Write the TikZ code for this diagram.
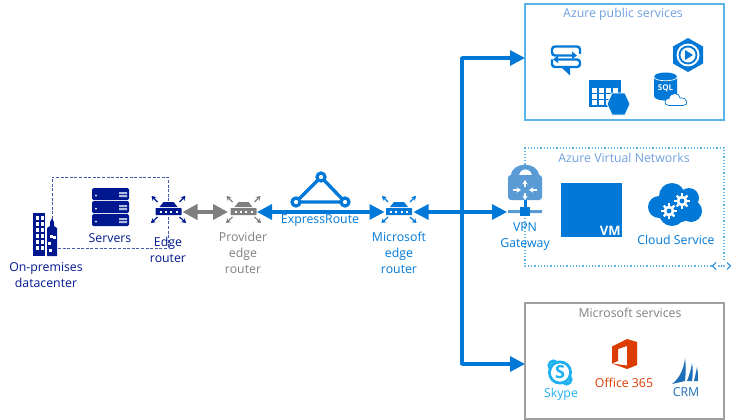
\documentclass[tikz,border=0pt]{standalone}
\usepackage{fontspec}
\setmainfont{Open Sans}
\usepackage{tikz}
\usetikzlibrary{arrows.meta}
\definecolor{navy}{HTML}{00188F}
\definecolor{dashnavy}{HTML}{4A58A8}
\definecolor{azure}{HTML}{0078D7}
\definecolor{sky}{HTML}{59B4EC}
\definecolor{ltext}{HTML}{6F9FE0}
\definecolor{lockblue}{HTML}{5A9BD5}
\definecolor{pgray}{HTML}{7F7F7F}
\definecolor{boxgray}{HTML}{A0A0A0}
\definecolor{skypeblue}{HTML}{1EB0F0}
\definecolor{officered}{HTML}{DC3C00}
\definecolor{crmblue}{HTML}{1C6FB8}

\begin{document}
\begin{tikzpicture}[x=1pt,y=-1pt,font=\fontsize{12.3}{16}\selectfont,
  txt/.style={align=center,inner sep=0pt},
  rtr/.style={minimum width=29pt,minimum height=20pt,inner sep=0pt,outer sep=0pt},
  ar/.style={{Triangle[length=15pt,width=15pt]}-{Triangle[length=15pt,width=15pt]},draw=azure,line width=3.2pt},
  arr/.style={-{Triangle[length=15pt,width=15pt]},draw=azure,line width=3.2pt},
  hop/.style={ar,draw=pgray,line width=4.4pt},
  tiny/.style={-{Stealth[length=4.4pt,width=5.4pt]},line width=1.2pt},
  svc/.style={draw,line width=1.3pt,inner sep=0pt,outer sep=0pt,minimum width=199pt,minimum height=116pt}]
\useasboundingbox (0,0) rectangle (744,420);

% service boxes
\node[svc,draw=sky] (pub) at (624.5,62) {};
\node[svc,draw=boxgray] (mss) at (624.5,361) {};
\node[txt,ltext] (pubt) at (623,14) {Azure public services};
\node[txt,ltext] (vnett) at (624,158) {Azure Virtual Networks};
\node[txt,pgray] (msst) at (630,313) {Microsoft services};
\draw[sky,line width=1.2pt,dotted] (724,260) |- (525,148) |- (712,266);
\draw[azure,line width=.9pt] (716,262.5) -- (712.5,266) -- (716,269.5) (727,262.5) -- (730.5,266) -- (727,269.5);
\foreach \x in {719,721.5,724} {\fill[azure] (\x,266) circle (.9);}

% datacenter wiring
\coordinate (dcup) at (52,219); \coordinate (dcdn) at (57,248);
\coordinate (upr) at (168,177); \coordinate (dnr) at (168,248);
\draw[dashnavy,line width=1pt,dash pattern=on 3pt off 1.6pt] (dcup) |- (upr) -- (dnr) -- (dcdn);

% building
\node[inner sep=0pt,minimum width=24pt,minimum height=43pt] (dc) at (45,235) {};
\fill[navy] (33,213) rectangle (45,256);
\fill[navy] (47,256) -- (47,228) -- (50,226) -- (50,222) -- (52,218) -- (54,222) -- (54,226) -- (57,228) -- (57,256) -- cycle;
\foreach \y in {0,...,5} {\foreach \x in {0,1} {\fill[white] (35.5+\x*5,216+\y*6) rectangle ++(3.5,4);}}
\foreach \px/\py in {51/236,54/237,49.5/243,50.5/250} {\fill[white] (\px-1.5,\py-1.5) rectangle ++(3,3);}
\node[txt,navy] (dct) at (46,275) {On-premises\\datacenter};

% servers
\foreach \y in {188,201,214} {
  \fill[navy,rounded corners=1.5pt] (92,\y) rectangle (129,\y+12);
  \fill[white] (96,\y+7.5) circle (1);
  \fill[white!70!navy] (119,\y+4) rectangle (127,\y+6) (119,\y+7) rectangle (127,\y+9);}
\node[txt,navy] (srvt) at (110,238) {Servers};

% routers
\foreach \x/\c in {168.5/navy,243.5/pgray,399/azure} {
  \begin{scope}[shift={(\x,212)},\c]
  \fill (-5,-10) -- (5,-10) -- (9,-5) -- (-9,-5) -- cycle;
  \fill[rounded corners=.6pt] (-13,-4) rectangle (13,3);
  \foreach \d in {-8,-2.7,2.7,8} {\fill[white] (\d-1,-1.3) rectangle ++(2,2);}
  \draw[tiny] (-11,-10) -- (-17,-16); \draw[tiny] (11,-10) -- (17,-16);
  \draw[tiny] (-11,5) -- (-17.5,11); \draw[tiny] (11,5) -- (17.5,11);
  \end{scope}}
\node[rtr] (edge) at (168,212) {};
\node[rtr] (prov) at (242.5,212) {};
\node[rtr] (msft) at (399,212) {};
\node[txt,navy] (edget) at (168,250) {Edge\\router};
\node[txt,pgray] (provt) at (243,253) {Provider\\edge\\router};
\node[txt,azure] (msftt) at (399,253) {Microsoft\\edge\\router};

% expressroute
\coordinate (ertop) at (321,177); \coordinate (erl) at (296,202); \coordinate (err) at (345,202);
\draw[azure,line width=3.4pt] (ertop) -- (erl) -- (err) -- cycle;
\foreach \p in {ertop,erl,err} {\draw[azure,line width=3.2pt,fill=white] (\p) circle (4);}
\node[txt,azure] (ert) at (320,221) {ExpressRoute};

% vpn gateway
\fill[lockblue] (511,176) .. controls (511,161) and (539,161) .. (539,176) -- cycle;
\fill[white] (518.5,177) .. controls (518.5,167) and (531.5,167) .. (531.5,177) -- cycle;
\fill[lockblue,rounded corners=3pt] (508,175) rectangle (542,200);
\begin{scope}[white]
  \draw[tiny] (525,187) -- (525,180); \draw[tiny] (525,193) -- (525,200);
  \draw[tiny] (513,190) -- (521,190); \draw[tiny] (537,190) -- (529,190);
\end{scope}
\fill[azure] (523.5,200) rectangle (526.5,207);
\fill[lockblue] (508,210) rectangle (520,213) (530,210) rectangle (542,213);
\fill[azure] (520,207) rectangle (530,216);
\node[rtr,minimum width=36pt] (vpn) at (525,212) {};
\node[txt,azure] (vpnt) at (525,237) {VPN\\Gateway};

% vm
\node[fill=azure,inner sep=0pt,minimum width=61pt,minimum height=54pt] (vm) at (591.5,210) {};
\node[white,inner sep=1.5pt,anchor=south east,font=\bfseries\fontsize{13}{14}\selectfont] (vmt) at (vm.south east) {VM};

% cloud service
\foreach \px/\py/\r in {672/196/13,689/198/10,659/207/11,691/211/11,672/213/13,680/208/14} {\fill[azure] (\px,\py) circle (\r);}
\foreach \px/\py in {669/211,682/201} {
  \begin{scope}[shift={(\px,\py)}]
  \foreach \a in {0,45,...,315} {\draw[white,line width=2.4pt] (0,0) -- (\a:7.6);}
  \fill[white] (0,0) circle (5.4); \fill[azure] (0,0) circle (2.4);
  \end{scope}}
\node[txt,azure] (cldt) at (676,240) {Cloud Service};

% public services icons
\draw[azure,line width=2.4pt,rounded corners=3pt] (580,54) -- (580,46.5) -- (552,46.5) -- (552,55.5) -- (574,55.5);
\draw[azure,line width=2.4pt,rounded corners=3pt] (552,59.5) -- (552,67) -- (580,67) -- (580,59.5) -- (558,59.5);
\fill[azure] (572,51.5) -- (577,55.5) -- (572,59) -- cycle (558,55.5) -- (553,59.5) -- (558,63) -- cycle;
\fill[azure] (561,67) -- (570,75.5) -- (570,67) -- cycle;
\fill[azure] (589,80) rectangle (621,107);
\foreach \x in {0,...,3} {\foreach \y in {0,...,2} {\fill[white] (591.5+\x*7,88+\y*6) rectangle ++(5.5,4.5);}}
\fill[azure,draw=white,line width=.8pt] (607,104) -- (612,93) -- (625,93) -- (630,104) -- (625,115) -- (612,115) -- cycle;
\fill[azure] (688,38) -- (703,46.5) -- (703,63.5) -- (688,72) -- (673,63.5) -- (673,46.5) -- cycle;
\fill[white] (688,55) circle (11.5);
\draw[azure,line width=1.8pt] (688,55) circle (8.5);
\fill[azure] (685,50) -- (693,55) -- (685,60) -- cycle;
\fill[azure] (654,77) .. controls (654,71) and (677,71) .. (677,77) -- (677,96) .. controls (677,102) and (654,102) .. (654,96) -- cycle;
\draw[white,line width=.7pt] (654,77) .. controls (654,82) and (677,82) .. (677,77);
\node[white,inner sep=0pt,font=\bfseries\fontsize{8}{9}\selectfont] (sqlt) at (665.5,88) {SQL};
\draw[azure,fill=white,line width=.7pt] (669,105.5) .. controls (663,105.5) and (664,98) .. (669,98.5) .. controls (670,92) and (680,92) .. (680,98) .. controls (688,97) and (689,105.5) .. (683,105.5) -- cycle;

% microsoft services icons
\draw[skypeblue,line width=3pt] (560,372.5) circle (10.5);
\draw[skypeblue,line width=3pt] (553.5,365.5) circle (4.5) (566.5,379.5) circle (4.5);
\fill[white] (560,372.5) circle (9);
\node[skypeblue,inner sep=0pt,font=\bfseries\fontsize{18}{18}\selectfont] (skypes) at (560,372.5) {S};
\node[txt,skypeblue] (skypet) at (561,394) {Skype};
\fill[officered] (612,346.5) -- (627,339) -- (637,342) -- (637,365) -- (627,369) -- (612,363.5) -- (627,365.5) -- (627,346) -- (618,349) -- (618,361) -- (612,363.5) -- cycle;
\node[txt,officered] (officet) at (624,383) {Office 365};
\fill[crmblue] (685,358) .. controls (684,368) and (680,378) .. (672,384) -- (685,381) .. controls (686,372) and (686,366) .. (685,358) -- cycle;
\fill[crmblue] (692,363) .. controls (691,370) and (689,376) .. (687,381) -- (692,381) .. controls (693,374) and (693,369) .. (692,363) -- cycle;
\fill[crmblue] (697,367) .. controls (696,372) and (695,377) .. (694,381) -- (698,381) .. controls (698,376) and (698,372) .. (697,367) -- cycle;
\node[txt,crmblue] (crmt) at (686,392) {CRM};

% links
\coordinate (jtop) at (462,58); \coordinate (jbot) at (462,364);
\draw[hop] (edge) -- (prov);
\draw[ar] (prov) -- (msft);
\draw[ar] (msft) -- (vpn);
\draw[azure,line width=3.2pt,line cap=round] (jtop) -- (jbot);
\draw[arr] (jtop) -- (jtop -| pub.west);
\draw[arr] (jbot) -- (jbot -| mss.west);
\end{tikzpicture}
\end{document}
